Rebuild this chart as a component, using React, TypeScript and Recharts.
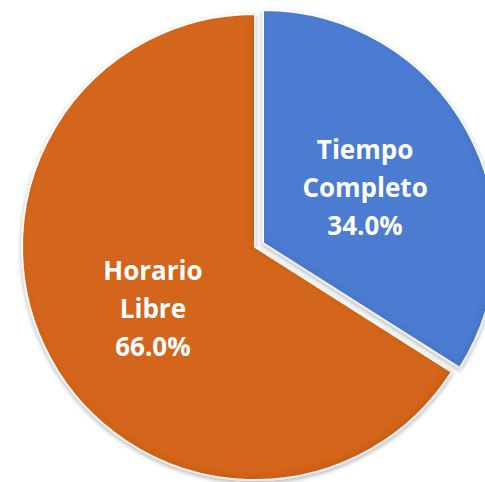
import React from 'react';
import { PieChart, Pie, Cell } from 'recharts';

const categories = ['Tiempo Completo', 'Horario Libre'];
const values = [34.0, 66.0];
const labelLines = [['Tiempo', 'Completo'], ['Horario', 'Libre']];
const colors = ['#4B7BD1', '#D4651B'];

const data = categories.map((name, i) => ({ name, value: values[i] }));
const total = values.reduce((a, b) => a + b, 0);

const RAD = Math.PI / 180;

const makeLabel = (visibleIndex: number, factor: number, nudgeY: number) => (props: any) => {
  const { cx, cy, midAngle, outerRadius, index } = props;
  if (index !== visibleIndex) return null;
  const r = outerRadius * factor;
  const x = cx + r * Math.cos(-midAngle * RAD);
  const y = cy + r * Math.sin(-midAngle * RAD) + nudgeY;
  const lines = [...labelLines[index], `${((values[index] / total) * 100).toFixed(1)}%`];
  const lh = 38;
  return (
    <text
      x={x}
      y={y}
      fill="#fff"
      textAnchor="middle"
      fontFamily="'Open Sans', sans-serif"
      fontWeight="bold"
      fontSize={26}
    >
      {lines.map((t, i) => (
        <tspan key={i} x={x} y={y + (i - 1) * lh} dominantBaseline="central">
          {t}
        </tspan>
      ))}
    </text>
  );
};

export default function App() {
  return (
    <div style={{ position: 'absolute', left: 0, top: 0, width: 485, height: 482, background: '#fff' }}>
      <PieChart width={485} height={482} margin={{ top: 0, right: 0, bottom: 0, left: 0 }}>
        <defs>
          <filter id="sh" x="-10%" y="-10%" width="120%" height="120%">
            <feGaussianBlur in="SourceAlpha" stdDeviation="3" result="blur" />
            <feOffset in="blur" dx="-2" dy="-3" result="off" />
            <feComposite in="SourceAlpha" in2="off" operator="out" result="inner" />
            <feFlood floodColor="#000" floodOpacity="0.22" result="flood" />
            <feComposite in="flood" in2="inner" operator="in" result="shade" />
            <feGaussianBlur in="SourceAlpha" stdDeviation="2" result="dblur" />
            <feOffset in="dblur" dx="0" dy="2" result="doff" />
            <feFlood floodColor="#000" floodOpacity="0.3" result="dflood" />
            <feComposite in="dflood" in2="doff" operator="in" result="drop" />
            <feMerge>
              <feMergeNode in="drop" />
              <feMergeNode in="SourceGraphic" />
              <feMergeNode in="shade" />
            </feMerge>
          </filter>
        </defs>
        <Pie
          data={data}
          dataKey="value"
          nameKey="name"
          cx={255}
          cy={247}
          outerRadius={233}
          startAngle={90}
          endAngle={-270}
          isAnimationActive={false}
          labelLine={false}
          label={makeLabel(1, 0.5, 5)}
        >
          {data.map((d, i) => (
            <Cell
              key={d.name}
              fill={i === 1 ? colors[1] : 'none'}
              stroke={i === 1 ? '#fff' : 'none'}
              strokeWidth={2}
              filter={i === 1 ? 'url(#sh)' : undefined}
            />
          ))}
        </Pie>
        <Pie
          data={data}
          dataKey="value"
          nameKey="name"
          cx={263}
          cy={243}
          outerRadius={233}
          startAngle={90}
          endAngle={-270}
          isAnimationActive={false}
          labelLine={false}
          label={makeLabel(0, 0.5, 0)}
        >
          {data.map((d, i) => (
            <Cell
              key={d.name}
              fill={i === 0 ? colors[0] : 'none'}
              stroke={i === 0 ? '#fff' : 'none'}
              strokeWidth={2}
              filter={i === 0 ? 'url(#sh)' : undefined}
            />
          ))}
        </Pie>
      </PieChart>
    </div>
  );
}
